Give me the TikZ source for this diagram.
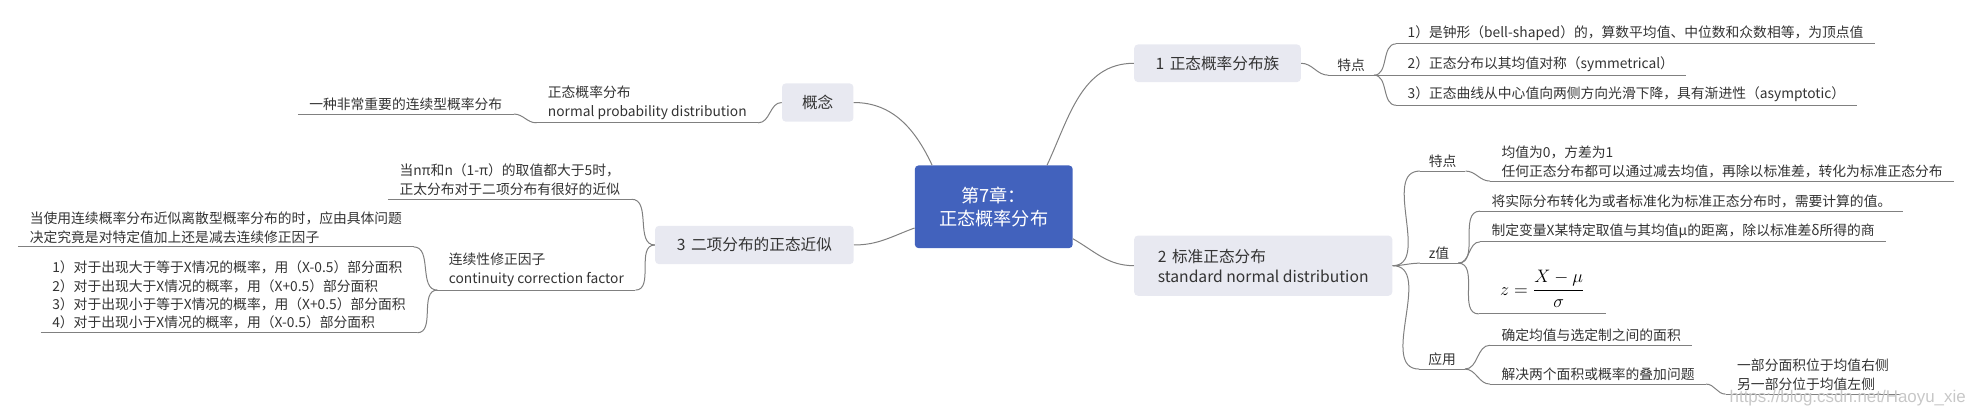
\documentclass[tikz,border=0pt]{standalone}
\usepackage[no-math]{fontspec}
\setmainfont{Noto Sans CJK SC}
\newfontfamily\wmfont{Liberation Sans}
\definecolor{rootblue}{HTML}{4262BD}
\definecolor{boxgray}{HTML}{E8E9F1}
\definecolor{linegray}{HTML}{808080}
\definecolor{txtgray}{HTML}{333333}
\begin{document}
\begin{tikzpicture}[x=1pt, y=1pt,
    line/.style={draw=linegray, line width=0.8pt},
    rbr/.style={out=0, in=180},
    lbr/.style={out=180, in=0},
    topic/.style={fill=boxgray, rounded corners=3pt, text=txtgray, align=left, font=\fontsize{12.5}{16}\selectfont},
    leaf/.style={inner xsep=9pt, inner ysep=2.5pt, text=txtgray, align=left, font=\fontsize{11}{15}\selectfont},
    lab/.style={leaf, inner xsep=7pt}]
\useasboundingbox (0,0) rectangle (1568,-331);
% Root
\node[fill=rootblue, rounded corners=3pt, text=white, align=center, minimum width=126pt, minimum height=66pt,
      font=\fontsize{14.5}{18}\selectfont] (root) at (793,-165) {第7章：\\正态概率分布};
% Main topics
\node[topic, minimum width=133pt, minimum height=30pt] (fam) at (971.5,-50.5) {1\hspace{0.35em}正态概率分布族};
\node[topic, minimum width=206pt, minimum height=48pt] (std) at (1008,-212) {2\hspace{0.35em}标准正态分布\\standard normal distribution};
\node[topic, minimum width=57pt, minimum height=30.5pt] (con) at (652.5,-81.8) {概念};
\node[topic, minimum width=158.5pt, minimum height=30.5pt] (bin) at (602,-195.5) {3\hspace{0.35em}二项分布的正态近似};
\draw[line] (root.38) to[out=65, in=180] (fam.west);
\draw[line] (root.-22) to[out=-30, in=180] (std.west);
\draw[line] (root.146) to[out=115, in=0] (con.east);
\draw[line] (root.195) to[out=200, in=0] (bin.east);
% 1 family
\node[lab, anchor=south west] (fam-tz) at (1060,-60) {特点};
\node[leaf, anchor=south west] (fam-a) at (1114,-35) {1）是钟形（bell-shaped）的，算数平均值、中位数和众数相等，为顶点值};
\node[leaf, anchor=south west] (fam-b) at (1114,-60) {2）正态分布以其均值对称（symmetrical）};
\node[leaf, anchor=south west] (fam-c) at (1114,-84) {3）正态曲线从中心值向两侧方向光滑下降，具有渐进性（asymptotic）};
\draw[line] (fam.east) to[rbr] (fam-tz.south west);
\draw[line] (fam-tz.south east) to[rbr] (fam-a.south west);
\draw[line] (fam-tz.south east) -- (fam-b.south west);
\draw[line] (fam-tz.south east) to[rbr] (fam-c.south west);
% 2 standard normal
\node[lab, anchor=south west] (std-tz) at (1133,-136.5) {特点};
\node[lab, anchor=south west] (std-z) at (1133,-210) {z值};
\node[lab, anchor=south west] (std-yy) at (1132.5,-294.5) {应用};
\node[leaf, anchor=south west] (std-tz-a) at (1189,-144.5) {均值为0，方差为1\\任何正态分布都可以通过减去均值，再除以标准差，转化为标准正态分布};
\node[leaf, anchor=south west] (std-z-a) at (1181,-168.5) {将实际分布转化为或者标准化为标准正态分布时，需要计算的值。};
\node[leaf, anchor=south west] (std-z-b) at (1181,-193) {制定变量X某特定取值与其均值μ的距离，除以标准差δ所得的商};
\node[leaf, anchor=south west, minimum width=101pt, align=center, inner ysep=5pt, text=black,
      font=\fontsize{15}{18}\selectfont] (std-z-c) at (1180,-250.5) {$\displaystyle z=\frac{X-\mu}{\sigma}$};
\node[leaf, anchor=south west] (std-yy-a) at (1189,-275.5) {确定均值与选定制之间的面积};
\node[leaf, anchor=south west] (std-yy-b) at (1189,-306.5) {解决两个面积或概率的叠加问题};
\node[leaf, anchor=south west] (std-yy-b-a) at (1377,-314.5) {一部分面积位于均值右侧\\另一部分位于均值左侧};
\draw[line] (std.east) to[rbr] (std-tz.south west);
\draw[line] (std.east) to[rbr] (std-z.south west);
\draw[line] (std.east) to[rbr] (std-yy.south west);
\draw[line] (std-tz.south east) to[rbr] (std-tz-a.south west);
\draw[line] (std-z.south east) to[rbr] (std-z-a.south west);
\draw[line] (std-z.south east) to[rbr] (std-z-b.south west);
\draw[line] (std-z.south east) to[rbr] (std-z-c.south west);
\draw[line] (std-yy.south east) to[rbr] (std-yy-a.south west);
\draw[line] (std-yy.south east) to[rbr] (std-yy-b.south west);
\draw[line] (std-yy-b.south east) to[rbr] (std-yy-b-a.south west);
% concept
\node[leaf, anchor=south east] (con-a) at (605,-98) {正态概率分布\\normal probability distribution};
\node[leaf, anchor=south east] (con-a-a) at (410,-91) {一种非常重要的连续型概率分布};
\draw[line] (con.west) to[lbr] (con-a.south east);
\draw[line] (con-a.south west) to[lbr] (con-a-a.south east);
% 3 binomial
\node[leaf, anchor=south east] (bin-a) at (504,-159) {当nπ和n（1-π）的取值都大于5时，\\正太分布对于二项分布有很好的近似};
\node[leaf, anchor=south east] (bin-b) at (507,-231.5) {连续性修正因子\\continuity correction factor};
\node[leaf, anchor=south east] (bin-b-a) at (330,-197) {当使用连续概率分布近似离散型概率分布的时，应由具体问题\\决定究竟是对特定值加上还是减去连续修正因子};
\node[leaf, anchor=south east, font=\fontsize{11}{14.6}\selectfont] (bin-b-b) at (333,-265.5)
  {1）对于出现大于等于X情况的概率，用（X-0.5）部分面积\\2）对于出现大于X情况的概率，用（X+0.5）部分面积\\3）对于出现小于等于X情况的概率，用（X+0.5）部分面积\\4）对于出现小于X情况的概率，用（X-0.5）部分面积};
\draw[line] (bin.west) to[lbr] (bin-a.south east);
\draw[line] (bin.west) to[lbr] (bin-b.south east);
\draw[line] (bin-b.south west) to[lbr] (bin-b-a.south east);
\draw[line] (bin-b.south west) to[lbr] (bin-b-b.south east);
% underlines
\foreach \n in {fam-tz,fam-a,fam-b,fam-c,std-tz,std-z,std-yy,std-tz-a,std-z-a,std-z-b,std-z-c,std-yy-a,std-yy-b,std-yy-b-a,con-a,con-a-a,bin-a,bin-b,bin-b-a,bin-b-b}
  \draw[line] (\n.south west) -- (\n.south east);
% watermark
\node[anchor=west, inner sep=0pt, text=black!22, font=\wmfont\fontsize{13.5}{16}\selectfont] (wm) at (1380,-318) {https://blog.csdn.net/Haoyu\_xie};
\end{tikzpicture}
\end{document}
